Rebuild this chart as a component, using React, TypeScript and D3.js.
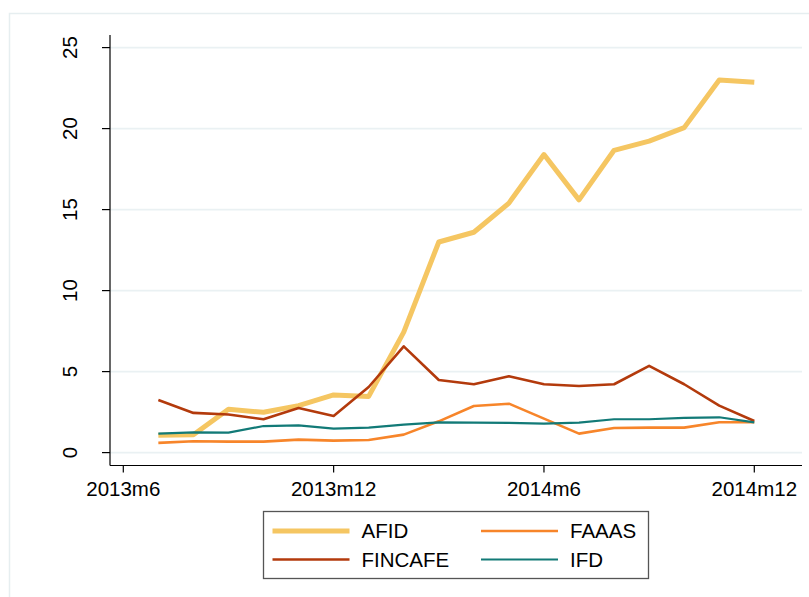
import React from "react";
import * as d3 from "d3";

// months since 2013m6 (0 = 2013m6)
const monthIdx = [1, 2, 3, 4, 5, 6, 7, 8, 9, 10, 11, 12, 13, 14, 15, 16, 17, 18];
const tickMonths = [0, 6, 12, 18];
const tickLabels = ["2013m6", "2013m12", "2014m6", "2014m12"];
const yTicks = [0, 5, 10, 15, 20, 25];

const afid = [1.07, 1.1, 2.67, 2.49, 2.9, 3.56, 3.47, 7.44, 13.0, 13.6, 15.4, 18.4, 15.6, 18.66, 19.23, 20.06, 23.0, 22.86];
const faaas = [0.6, 0.7, 0.68, 0.68, 0.8, 0.74, 0.78, 1.11, 1.93, 2.88, 3.02, 2.1, 1.17, 1.52, 1.54, 1.54, 1.87, 1.87];
const fincafe = [3.25, 2.45, 2.35, 2.06, 2.75, 2.26, 4.05, 6.56, 4.48, 4.22, 4.71, 4.22, 4.11, 4.22, 5.35, 4.22, 2.9, 1.95];
const ifd = [1.17, 1.25, 1.23, 1.64, 1.68, 1.48, 1.54, 1.73, 1.87, 1.85, 1.83, 1.79, 1.85, 2.06, 2.06, 2.14, 2.18, 1.87];

const seriesNames = ["AFID", "FAAAS", "FINCAFE", "IFD"];
const seriesValues = [afid, faaas, fincafe, ifd];
const seriesColors = ["#f5c662", "#f7852a", "#b33a0c", "#127a77"];
const seriesWidths = [5, 2.6, 2.6, 2.2];

const FONT = "'Liberation Sans', Arial, Helvetica, sans-serif";

export default function App() {
  const x = d3.scaleLinear().domain([0, 18]).range([123.3, 754.3]);
  const y = d3.scaleLinear().domain([0, 25]).range([452.6, 47.6]);
  const plotLeft = 110;
  const plotRight = 802;
  const axisY = 465.5;
  const axisTop = 35;

  const line = d3
    .line<number>()
    .x((_, i) => x(monthIdx[i]))
    .y((d) => y(d));

  const legendX = 263.5;
  const legendY = 511.5;
  const legendW = 385;
  const legendH = 67;
  const colX = [272.5, 481];
  const rowY = [531, 559.5];

  return (
    <div style={{ position: "absolute", left: 0, top: 0 }}>
      <svg width={809} height={597} style={{ display: "block", background: "#fff" }}>
        {/* outer frame */}
        <rect x={9.5} y={13.5} width={850} height={650} fill="#ffffff" stroke="#e6eef0" strokeWidth={1.5} />

        {/* gridlines */}
        {yTicks.map((t) => (
          <line key={"g" + t} x1={plotLeft} x2={plotRight} y1={y(t)} y2={y(t)} stroke="#eaf1f3" strokeWidth={1.6} />
        ))}

        {/* y axis */}
        <line x1={plotLeft} x2={plotLeft} y1={axisTop} y2={axisY} stroke="#000" strokeWidth={1.2} />
        {yTicks.map((t) => (
          <g key={"yt" + t}>
            <line x1={plotLeft - 8} x2={plotLeft} y1={y(t)} y2={y(t)} stroke="#000" strokeWidth={1.2} />
            <text
              transform={`translate(76.5, ${y(t)}) rotate(-90)`}
              textAnchor="middle"
              fontFamily={FONT}
              fontSize={20.5}
              fill="#000"
            >
              {t}
            </text>
          </g>
        ))}

        {/* x axis */}
        <line x1={plotLeft} x2={plotRight} y1={axisY} y2={axisY} stroke="#000" strokeWidth={1.2} />
        {tickMonths.map((m, i) => (
          <g key={"xt" + m}>
            <line x1={x(m)} x2={x(m)} y1={axisY} y2={axisY + 7} stroke="#000" strokeWidth={1.2} />
            <text x={x(m)} y={496} textAnchor="middle" fontFamily={FONT} fontSize={20.5} fill="#000">
              {tickLabels[i]}
            </text>
          </g>
        ))}

        {/* series */}
        {seriesValues.map((vals, si) => (
          <path
            key={seriesNames[si]}
            d={line(vals) || ""}
            fill="none"
            stroke={seriesColors[si]}
            strokeWidth={seriesWidths[si]}
            strokeLinejoin="round"
          />
        ))}

        {/* legend */}
        <rect x={legendX} y={legendY} width={legendW} height={legendH} fill="#fff" stroke="#555" strokeWidth={1.3} />
        {seriesNames.map((name, si) => {
          const cx = colX[si % 2];
          const ry = rowY[Math.floor(si / 2)];
          return (
            <g key={"lg" + name}>
              <line x1={cx} x2={cx + 77} y1={ry} y2={ry} stroke={seriesColors[si]} strokeWidth={seriesWidths[si]} />
              <text x={cx + 89} y={ry + 7.3} fontFamily={FONT} fontSize={20.5} fill="#000">
                {name}
              </text>
            </g>
          );
        })}
      </svg>
    </div>
  );
}
